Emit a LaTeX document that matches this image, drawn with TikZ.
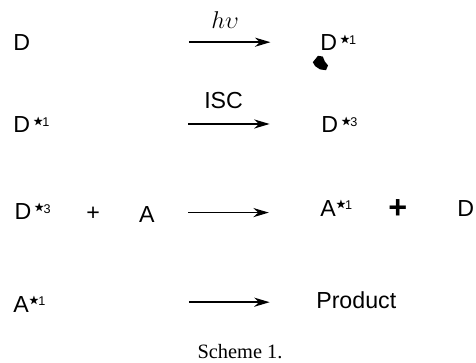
\documentclass[tikz,border=0pt]{standalone}
\usepackage{fontspec}
\usepackage{amssymb}
\usetikzlibrary{arrows.meta}
\setmainfont{Liberation Sans}
\newfontfamily\capfont{Liberation Serif}
\newcommand{\excited}[2][0.12em]{\hspace{#1}\raisebox{0.27em}{\fontsize{9}{9}\selectfont\raisebox{0.2em}{\fontsize{7.5}{8}\selectfont$\bigstar$}\hspace{-0.08em}#2}}
\tikzset{
    species/.style={anchor=base west,inner sep=0pt,font=\fontsize{16.5}{18}\selectfont},
    reactarrow/.style={-{Stealth[length=11pt,width=6.5pt,inset=3.5pt]},line width=1pt}
}
\begin{document}
\begin{tikzpicture}
    \useasboundingbox (0,0) rectangle (11.9,9.075);

    % Row 1: excitation
    \node[species] (dground) at (0.33,7.8) {D};
    \node[species] (dsingleta) at (8.0,7.8) {D\excited{1}};
    \coordinate (starta) at (4.72,8.02);
    \coordinate (enda) at (6.76,8.02);
    \draw[reactarrow] (starta) -- (enda);
    \node[species,font=\fontsize{17}{18}\selectfont] (hnu) at (5.28,8.35) {$h\upsilon$};

    % Row 2: intersystem crossing
    \node[species] (dsingletb) at (0.33,5.75) {D\excited{1}};
    \node[species] (dtripleta) at (8.03,5.75) {D\excited{3}};
    \coordinate (startb) at (4.7,5.975);
    \coordinate (endb) at (6.74,5.975);
    \draw[reactarrow] (startb) -- (endb);
    \node[species] (isc) at (5.1,6.37) {ISC};

    % Row 3: energy transfer
    \node[species] (dtripletb) at (0.36,3.58) {D\excited{3}};
    \node[species] (plusa) at (2.15,3.55) {+};
    \node[species] (acceptor) at (3.47,3.5) {A};
    \node[species] (asingleta) at (8.0,3.67) {A\excited[0pt]{1}};
    \node[species,font=\fontsize{23}{23}\selectfont\bfseries] (plusb) at (9.7,3.6) {+};
    \node[species] (dfinal) at (11.43,3.67) {D};
    \coordinate (startc) at (4.7,3.76);
    \coordinate (endc) at (6.72,3.76);
    \draw[reactarrow] (startc) -- (endc);

    % Row 4: product
    \node[species] (asingletb) at (0.33,1.27) {A\excited[0pt]{1}};
    \node[species] (product) at (7.9,1.35) {Product};
    \coordinate (startd) at (4.72,1.52);
    \coordinate (endd) at (6.74,1.52);
    \draw[reactarrow] (startd) -- (endd);

    % Ink blot
    \fill (7.95,7.68) -- (8.07,7.66) -- (8.12,7.54) -- (8.2,7.44) -- (8.15,7.32) -- (8.0,7.34) -- (7.88,7.42) -- (7.82,7.52) -- cycle;

    % Caption
    \node[anchor=base,inner sep=0pt,font=\capfont\fontsize{14.5}{16}\selectfont] (caption) at (6.0,0.1) {Scheme 1.};
\end{tikzpicture}
\end{document}
